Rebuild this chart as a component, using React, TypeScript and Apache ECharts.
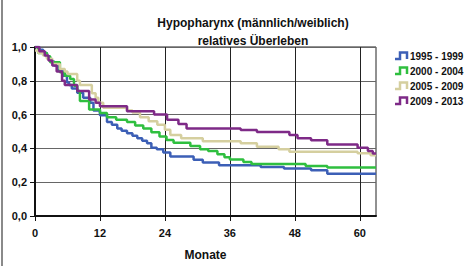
import React, { useEffect, useRef } from "react";
import * as echarts from "echarts";

const seriesNames = ["1995 - 1999", "2000 - 2004", "2005 - 2009", "2009 - 2013"];
const seriesColors = ["#3c5fb6", "#2fbf3f", "#d5cf9f", "#7e2a87"];

const months1995 = [0, 0.8, 1.5, 2.2, 2.8, 3.5, 4.2, 5.2, 5.9, 6.3, 6.8, 7.8, 8.9, 10.2, 10.8, 12, 13.3, 14.2, 15.2, 16, 17, 18, 18.9, 19.8, 20.7, 21.5, 22.5, 23.7, 25, 29.3, 31, 34, 41.7, 46, 51, 54, 63];
const values1995 = [1.0, 0.983, 0.965, 0.94, 0.916, 0.89, 0.86, 0.83, 0.79, 0.775, 0.755, 0.73, 0.7, 0.67, 0.625, 0.596, 0.556, 0.54, 0.518, 0.505, 0.49, 0.475, 0.46, 0.445, 0.43, 0.404, 0.395, 0.376, 0.352, 0.333, 0.317, 0.3, 0.29, 0.281, 0.271, 0.25, 0.25];

const months2000 = [0, 0.6, 2.2, 2.8, 4.6, 5.5, 6.5, 7.2, 7.8, 8.3, 10, 12, 13.3, 15, 17, 18.5, 20, 21.5, 23, 24.3, 25.6, 28.7, 30.5, 32, 33.7, 35, 36, 38.5, 40, 50, 54, 63];
const values2000 = [1.0, 0.965, 0.945, 0.91, 0.85, 0.83, 0.81, 0.77, 0.74, 0.68, 0.63, 0.61, 0.585, 0.57, 0.556, 0.535, 0.518, 0.495, 0.47, 0.45, 0.433, 0.414, 0.395, 0.385, 0.366, 0.347, 0.334, 0.32, 0.308, 0.296, 0.287, 0.287];

const months2005 = [0, 0.6, 1.5, 2.2, 3.2, 4.6, 5.5, 6, 7.8, 8.3, 10.5, 11.2, 11.7, 12.6, 17, 18, 19.4, 21, 22.6, 24, 25, 27, 31, 38, 41, 45, 47, 59.6, 62, 63];
const values2005 = [0.98, 0.965, 0.95, 0.93, 0.9, 0.87, 0.855, 0.84, 0.8, 0.775, 0.727, 0.7, 0.67, 0.64, 0.625, 0.613, 0.585, 0.56, 0.54, 0.51, 0.48, 0.46, 0.442, 0.43, 0.41, 0.395, 0.38, 0.372, 0.36, 0.36];

const months2009 = [0, 0.8, 1.8, 2.5, 3.2, 4, 5, 5.5, 7.8, 10, 11.2, 12, 17, 22, 24.4, 26.5, 28, 38, 41, 47, 48.5, 51, 54, 59.6, 61.5, 62.4, 63];
const values2009 = [1.0, 0.975, 0.95, 0.92, 0.89, 0.855, 0.8, 0.775, 0.74, 0.69, 0.67, 0.65, 0.62, 0.6, 0.57, 0.545, 0.518, 0.509, 0.497, 0.48, 0.46, 0.448, 0.423, 0.404, 0.385, 0.37, 0.37];

const allMonths = [months1995, months2000, months2005, months2009];
const allValues = [values1995, values2000, values2005, values2009];

const xTicks = [0, 12, 24, 36, 48, 60];
const titleLines = ["Hypopharynx (männlich/weiblich)", "relatives Überleben"];
const xAxisName = "Monate";

export default function App() {
  const ref = useRef<HTMLDivElement>(null);
  useEffect(() => {
    if (!ref.current) return;
    const chart = echarts.init(ref.current, null, { renderer: "svg" });
    const font = "'Liberation Sans', Arial, sans-serif";

    const legendGraphics: any[] = [];
    seriesNames.forEach((n, i) => {
      const yc = 55.5 + i * 15;
      legendGraphics.push({
        type: "polyline",
        shape: {
          points: [
            [395, yc + 3.5],
            [400, yc + 3.5],
            [400, yc - 3],
            [407, yc - 3],
            [407, yc + 3.5],
          ],
        },
        style: { stroke: seriesColors[i], lineWidth: 2.5, fill: null },
      });
      legendGraphics.push({
        type: "text",
        x: 410,
        y: yc + 0.5,
        style: {
          text: n,
          fontSize: 10,
          fontWeight: "bold",
          fontFamily: font,
          fill: "#111",
          verticalAlign: "middle",
          align: "left",
        },
      });
    });

    chart.setOption({
      animation: false,
      backgroundColor: "#ffffff",
      textStyle: { fontFamily: font },
      title: [
        {
          text: titleLines[0],
          left: 248,
          top: 12,
          textAlign: "center",
          textStyle: { fontSize: 12, fontWeight: "bold", color: "#111", fontFamily: font },
        },
        {
          text: titleLines[1],
          left: 248,
          top: 30,
          textAlign: "center",
          textStyle: { fontSize: 12, fontWeight: "bold", color: "#111", fontFamily: font },
        },
      ],
      grid: {
        left: 35,
        right: 91,
        top: 47,
        bottom: 43,
        show: true,
        borderColor: "#222",
        borderWidth: 1,
      },
      xAxis: {
        type: "value",
        min: 0,
        max: 63,
        interval: 12,
        name: xAxisName,
        nameLocation: "middle",
        nameGap: 33,
        nameTextStyle: { fontSize: 12, fontWeight: "bold", color: "#111", fontFamily: font },
        axisLine: { show: true, lineStyle: { color: "#111", width: 2 } },
        axisTick: { show: true, length: 5, lineStyle: { color: "#111" }, customValues: xTicks },
        axisLabel: {
          fontSize: 11,
          fontWeight: "bold",
          color: "#111",
          margin: 11,
          customValues: xTicks,
        },
        splitLine: { show: true, lineStyle: { color: "#222", width: 1 } },
      },
      yAxis: {
        type: "value",
        min: 0,
        max: 1,
        interval: 0.2,
        axisLine: { show: true, lineStyle: { color: "#111", width: 2 } },
        axisTick: { show: true, length: 5, lineStyle: { color: "#111" } },
        axisLabel: {
          fontSize: 11,
          fontWeight: "bold",
          color: "#111",
          margin: 8,
          formatter: (v: number) => v.toFixed(1).replace(".", ","),
        },
        splitLine: { show: true, lineStyle: { color: "#666", width: 1 } },
      },
      graphic: [
        { type: "rect", shape: { x: 1, y: 0, width: 2, height: 266 }, style: { fill: "#8a8a8a" } },
        ...legendGraphics,
      ],
      series: seriesNames.map((n, i) => ({
        name: n,
        type: "line",
        step: "end",
        showSymbol: false,
        symbol: "none",
        color: seriesColors[i],
        lineStyle: { width: 2.5, color: seriesColors[i] },
        data: allMonths[i].map((m, j) => [m, allValues[i][j]]),
      })),
    });
    return () => chart.dispose();
  }, []);
  return <div ref={ref} style={{ width: 467, height: 266, position: "absolute", left: 0, top: 0 }} />;
}
